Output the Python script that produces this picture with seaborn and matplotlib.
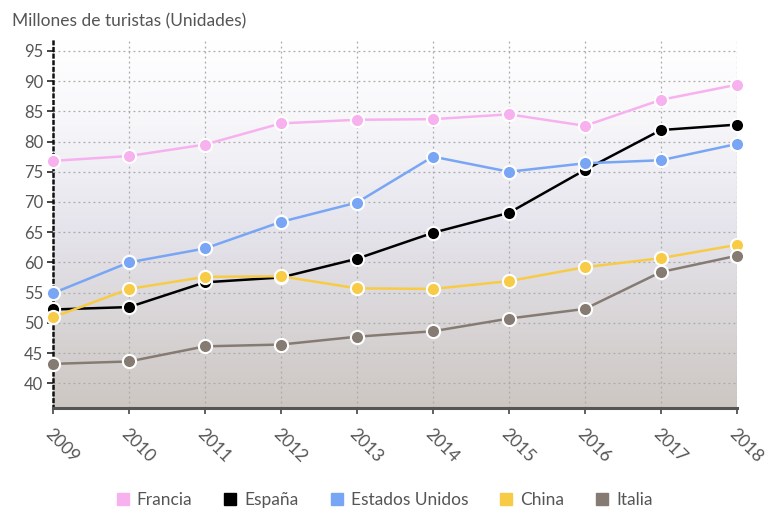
import numpy as np
import pandas as pd
import seaborn as sns
import matplotlib.pyplot as plt
from matplotlib.colors import LinearSegmentedColormap
from matplotlib.lines import Line2D

years = [2009, 2010, 2011, 2012, 2013, 2014, 2015, 2016, 2017, 2018]
francia = [76.8, 77.6, 79.5, 83.0, 83.6, 83.7, 84.5, 82.6, 86.9, 89.4]
espana = [52.2, 52.6, 56.7, 57.5, 60.6, 64.9, 68.2, 75.3, 81.9, 82.8]
estados_unidos = [54.9, 60.0, 62.3, 66.7, 69.9, 77.5, 75.0, 76.4, 76.9, 79.6]
china = [50.9, 55.6, 57.6, 57.7, 55.7, 55.6, 56.9, 59.2, 60.7, 62.9]
italia = [43.2, 43.6, 46.1, 46.4, 47.7, 48.6, 50.7, 52.3, 58.4, 61.1]

series_names = ['Francia', 'España', 'Estados Unidos', 'China', 'Italia']
colors = ['#f7b1ef', '#000000', '#78a6f4', '#f8cb47', '#857b73']

sns.set_style('white')
plt.rcParams['font.family'] = ['Lato', 'DejaVu Sans']

# long format table for seaborn
df = pd.DataFrame({
    'year': years * 5,
    'value': francia + espana + estados_unidos + china + italia,
    'pais': sum([[n] * len(years) for n in series_names], []),
})

fig = plt.figure(figsize=(7.65, 5.13), dpi=100)
ax = fig.add_axes([0.0693, 0.2047, 0.894, 0.7173])

ymin, ymax = 35.9, 96.8

# gradient background of the plot area
cmap = LinearSegmentedColormap.from_list('bg', [(0, '#cdc7c3'), (0.5, '#e6e5ed'), (0.8, '#f8f8fb'), (1, '#ffffff')])
grad = np.linspace(0, 1, 256).reshape(-1, 1)
ax.imshow(grad, extent=[2009, 2018, ymin, ymax], origin='lower', aspect='auto', cmap=cmap, zorder=0)

ax.grid(True, linestyle=(0, (1.5, 2.5)), color='#aaaaaa', linewidth=0.9, zorder=1)
ax.set_axisbelow(True)

sns.lineplot(data=df, x='year', y='value', hue='pais', hue_order=series_names,
             palette=colors, marker='o', markersize=9.5, markeredgecolor='white',
             markeredgewidth=1.5, linewidth=1.8, legend=False, ax=ax, zorder=3)
for ln in ax.lines:
    ln.set_clip_on(False)

ax.set_xlim(2009, 2018)
ax.set_ylim(ymin, ymax)
ax.set_xticks(years)
ax.set_xticklabels([str(y) for y in years], rotation=-45, ha='left', rotation_mode='anchor')
ax.set_yticks(range(40, 96, 5))
ax.set_xlabel('')
ax.set_ylabel('')

ax.tick_params(axis='y', left=True, length=4, width=1.2, color='#222222', labelsize=12, labelcolor='#555555', pad=3)
ax.tick_params(axis='x', bottom=True, length=4, width=1.2, color='#444444', labelsize=12.5, labelcolor='#555555', pad=9)

for s in ['top', 'right']:
    ax.spines[s].set_visible(False)
ax.spines['left'].set_linestyle(':')
ax.spines['left'].set_linewidth(1.8)
ax.spines['left'].set_color('#111111')
ax.spines['bottom'].set_linewidth(2.2)
ax.spines['bottom'].set_color('#555555')

fig.text(0.016, 0.975, 'Millones de turistas (Unidades)', fontsize=12.5, color='#555555', va='top', ha='left')

handles = [Line2D([], [], marker='s', linestyle='none', markersize=8.5, color=c) for c in colors]
fig.legend(handles, series_names, loc='center', bbox_to_anchor=(0.5, 0.026), ncol=5, frameon=False,
           fontsize=12.5, labelcolor='#555555', handletextpad=0.2, columnspacing=1.6, handlelength=1.2)

fig.savefig('out.png', dpi=100)
